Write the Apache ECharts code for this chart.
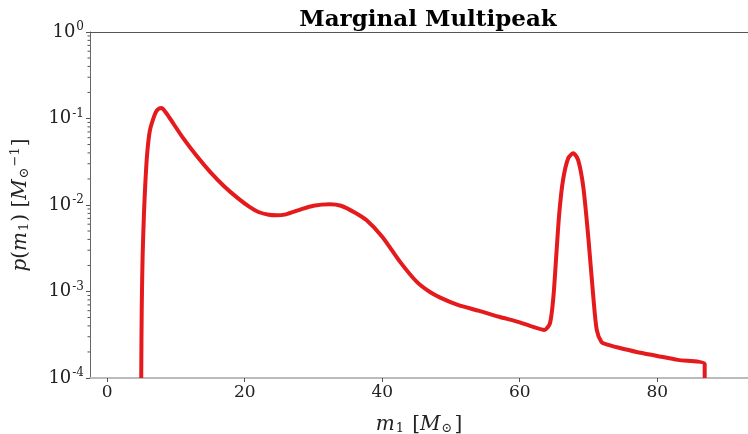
<!DOCTYPE html>
<html>
  <head>
    <meta charset="utf-8" />
    <title>Marginal Multipeak</title>
    <script src="https://cdn.jsdelivr.net/npm/echarts@6/dist/echarts.min.js"></script>
    <style>
      body { margin: 0; background: #fff; }
      #main { width: 748px; height: 434px; }
    </style>
  </head>
  <body>
    <div id="main"></div>
    <script>
      // primary mass m1 and density p(m1)
      var mass = [4.95, 5.02, 5.15, 5.35, 5.55, 5.8, 6.2, 6.9, 7.3, 7.9, 8.5, 9.6, 11, 13, 15, 17, 19, 20.7, 22, 23.5,
                  24.6, 26, 28, 30, 32.4, 34, 36, 37.7, 40, 42.6, 45, 47, 49, 51, 54, 57, 60, 61.5, 63.6, 64.4,
                  64.9, 65.3, 65.75, 66.3, 67.05, 67.8, 68.5, 69.25, 70.0, 70.7, 71.2, 71.9, 72.6, 74.3, 77,
                  80, 83, 86.9, 86.9];
      var density = [1.0e-4, 6e-4, 2.5e-3, 8e-3, 1.8e-2, 3.8e-2, 7.2e-2, 1.1e-1, 1.26e-1, 1.32e-1, 1.18e-1, 8.8e-2, 6.0e-2, 3.7e-2, 2.4e-2, 1.65e-2, 1.2e-2, 9.5e-3, 8.3e-3, 7.7e-3,
                     7.6e-3, 7.8e-3, 8.8e-3, 9.8e-3, 1.02e-2, 9.8e-3, 8.2e-3, 6.7e-3, 4.3e-3, 2.2e-3, 1.3e-3, 9.8e-4, 8.1e-4, 7.0e-4, 6.0e-4, 5.1e-4, 4.4e-4, 4.0e-4, 3.6e-4, 4.3e-4,
                     8.7e-4, 2.5e-3, 8e-3, 1.95e-2, 3.47e-2, 3.97e-2, 3.3e-2, 1.6e-2, 4e-3, 8.7e-4, 3.6e-4, 2.6e-4, 2.45e-4, 2.25e-4, 2.0e-4,
                     1.8e-4, 1.62e-4, 1.45e-4, 1.0e-4];
      var xTicks = [0, 20, 40, 60, 80];
      var minorTicks = [];
      [-4, -3, -2, -1].forEach(function (k) {
        for (var d = 2; d <= 9; d++) minorTicks.push(d * Math.pow(10, k));
      });

      var xMin = -2.5, xMax = 93.2;
      var serif = '"DejaVu Serif", serif';

      var myChart = echarts.init(document.getElementById('main'));
      var option = {
        animation: false,
        title: {
          text: 'Marginal Multipeak',
          left: 423,
          textAlign: 'center',
          top: 4,
          textStyle: { fontFamily: serif, fontWeight: 'bold', fontSize: 23, color: '#000' }
        },
        grid: { left: 90, right: 0, top: 32, bottom: 56, outerBoundsMode: 'none', containLabel: false },
        xAxis: [{
          type: 'value',
          min: xMin,
          max: xMax,
          interval: 20,
          name: '{i|m}{sub|1} [{i|M}{sub|⊙}]',
          nameLocation: 'middle',
          nameGap: 36,
          nameTextStyle: {
            fontFamily: serif, fontSize: 20, color: '#222',
            rich: {
              i: { fontFamily: serif, fontStyle: 'italic', fontSize: 20, color: '#222' },
              sub: { fontFamily: serif, fontSize: 13, color: '#222', padding: [8, 2, 0, 1] }
            }
          },
          splitLine: { show: false },
          axisLine: { onZero: false, lineStyle: { color: '#bbb', width: 2 } },
          axisTick: { length: 4, lineStyle: { color: '#555' }, customValues: xTicks },
          axisLabel: {
            fontFamily: serif, fontSize: 17, color: '#222', margin: 6,
            customValues: xTicks
          }
        }, {
          type: 'value',
          position: 'top',
          min: xMin,
          max: xMax,
          axisLine: { show: true, onZero: false, lineStyle: { color: '#555', width: 1 } },
          axisTick: { show: false },
          axisLabel: { show: false },
          splitLine: { show: false }
        }],
        yAxis: {
          type: 'log',
          min: 1e-4,
          max: 1,
          logBase: 10,
          name: '{i|p}({i|m}{sub|1}) [{i|M}{sub|⊙}{sup|−1}]',
          nameLocation: 'middle',
          nameGap: 58,
          nameRotate: 90,
          nameTextStyle: {
            fontFamily: serif, fontSize: 20, color: '#222',
            rich: {
              i: { fontFamily: serif, fontStyle: 'italic', fontSize: 20, color: '#222' },
              sub: { fontFamily: serif, fontSize: 13, color: '#222', padding: [8, 1, 0, 1] },
              sup: { fontFamily: serif, fontSize: 13, color: '#222', padding: [0, 1, 10, 0] }
            }
          },
          splitLine: { show: false },
          axisLine: { show: true, onZero: false, lineStyle: { color: '#666', width: 1 } },
          axisTick: { show: true, length: 4, lineStyle: { color: '#555' } },
          axisLabel: {
            margin: 6,
            formatter: function (v) {
              var e = Math.round(Math.log10(v));
              return '{b|10}{s|' + e + '}';
            },
            rich: {
              b: { fontFamily: serif, fontSize: 18, color: '#222' },
              s: { fontFamily: serif, fontSize: 12, color: '#222', padding: [0, 0, 10, 1] }
            }
          }
        },
        series: [{
          type: 'line',
          data: mass.map(function (m, i) { return [m, density[i]]; }),
          showSymbol: false,
          smooth: 0.25,
          clip: true,
          lineStyle: { color: '#e41a1c', width: 4, join: 'round' }
        }, {
          // minor log ticks on the left spine
          type: 'custom',
          clip: false,
          silent: true,
          data: minorTicks.map(function (v) { return [xMin, v]; }),
          renderItem: function (params, api) {
            var p = api.coord([api.value(0), api.value(1)]);
            return {
              type: 'line',
              shape: { x1: p[0] - 2.5, y1: p[1], x2: p[0], y2: p[1] },
              style: { stroke: '#555', lineWidth: 1 }
            };
          }
        }]
      };
      myChart.setOption(option);
    </script>
  </body>
</html>
